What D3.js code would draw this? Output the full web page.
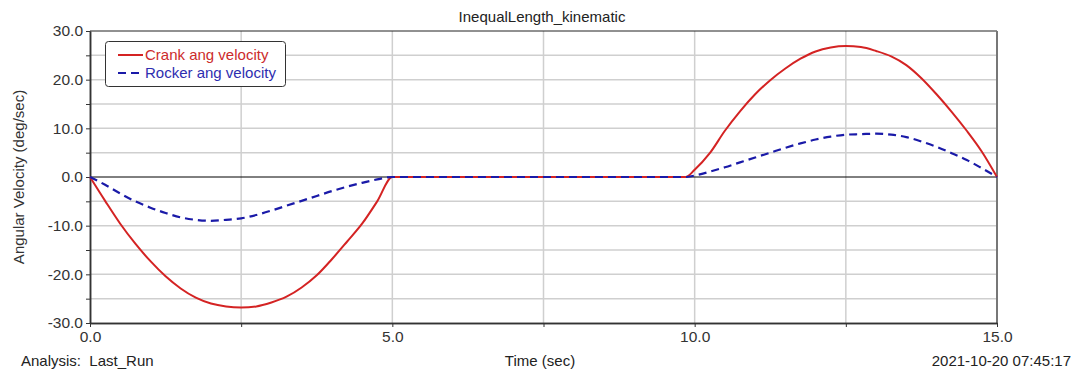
<!DOCTYPE html>
<html>
<head>
<meta charset="utf-8">
<script src="https://cdn.jsdelivr.net/npm/d3@7"></script>
<style>
  body { margin: 0; background: #fff; }
  svg { display: block; font-family: "Liberation Sans", Arial, sans-serif; }
</style>
</head>
<body>
<svg id="chart" width="1075" height="372"></svg>
<script>
// time samples (sec)
const time = [
  0, 0.25, 0.5, 0.75, 1.0, 1.25, 1.5, 1.75, 2.0, 2.25, 2.5, 2.75, 3.0, 3.25, 3.5, 3.75, 4.0, 4.25, 4.5, 4.75, 5.0,
  6.0, 7.0, 8.0, 9.0, 9.85,
  10.0, 10.25, 10.5, 10.75, 11.0, 11.25, 11.5, 11.75, 12.0, 12.25, 12.5, 12.75, 13.0, 13.25, 13.5, 13.75, 14.0, 14.25, 14.5, 14.75, 15.0
];
const crank = [
  0, -4.9, -9.6, -13.7, -17.3, -20.4, -22.9, -24.8, -26.0, -26.6, -26.8, -26.6, -25.8, -24.6, -22.7, -20.2, -16.9, -13.3, -9.6, -5.0, 0,
  0, 0, 0, 0, 0,
  1.5, 4.9, 9.5, 13.5, 17.0, 19.9, 22.3, 24.3, 25.8, 26.6, 26.9, 26.7, 25.9, 24.8, 23.0, 20.3, 17.0, 13.4, 9.5, 5.2, 0
];
const rocker = [
  0, -1.6, -3.4, -5.0, -6.3, -7.4, -8.3, -8.8, -9.0, -8.8, -8.5, -7.8, -6.9, -5.9, -4.9, -3.9, -2.9, -2.0, -1.2, -0.5, 0,
  0, 0, 0, 0, 0,
  0.3, 1.1, 2.0, 3.0, 4.0, 5.0, 6.0, 6.9, 7.7, 8.3, 8.7, 8.8, 8.9, 8.7, 8.2, 7.3, 6.2, 4.9, 3.5, 1.8, 0
];
const seriesNames = ["Crank ang velocity", "Rocker ang velocity"];
const xTicks = [0, 5, 10, 15];
const yTicks = [-30, -20, -10, 0, 10, 20, 30];

const svg = d3.select("#chart");
const plotLeft = 90, plotRight = 997, plotTop = 31, plotBottom = 323;

const x = d3.scaleLinear().domain([0, 15]).range([plotLeft, plotRight]);
const y = d3.scaleLinear().domain([-30, 30]).range([plotBottom, plotTop]);

// plain hyphen for negatives, like the original
const fmt = d => d.toFixed(1);

// grid
svg.append("g").selectAll("line")
  .data(d3.range(2.5, 15, 2.5))
  .enter().append("line")
  .attr("x1", d => x(d)).attr("x2", d => x(d))
  .attr("y1", plotTop).attr("y2", plotBottom)
  .style("stroke", "#cfcfcf").style("stroke-width", 1.5);

svg.append("g").selectAll("line")
  .data(d3.range(-25, 30, 5).filter(d => d !== 0))
  .enter().append("line")
  .attr("x1", plotLeft).attr("x2", plotRight)
  .attr("y1", d => y(d)).attr("y2", d => y(d))
  .style("stroke", "#cfcfcf").style("stroke-width", 1.5);

// zero line
svg.append("line")
  .attr("x1", plotLeft).attr("x2", plotRight)
  .attr("y1", y(0)).attr("y2", y(0))
  .style("stroke", "#000").style("stroke-width", 1);

// frame top / right
svg.append("line").attr("x1", plotLeft).attr("x2", plotRight).attr("y1", plotTop).attr("y2", plotTop)
  .style("stroke", "#222").style("stroke-width", 1);
svg.append("line").attr("x1", plotRight).attr("x2", plotRight).attr("y1", plotTop).attr("y2", plotBottom)
  .style("stroke", "#777").style("stroke-width", 2);

// axes
const yAxis = d3.axisLeft(y).tickValues(yTicks).tickFormat(fmt).tickSize(4).tickSizeOuter(0);
const yMinor = d3.axisLeft(y).tickValues(d3.range(-25, 30, 10)).tickFormat("").tickSize(4).tickSizeOuter(0);
const xAxis = d3.axisBottom(x).tickValues(xTicks).tickFormat(fmt).tickSize(4).tickSizeOuter(0);
const xMinor = d3.axisBottom(x).tickValues([2.5, 7.5, 12.5]).tickFormat("").tickSize(4).tickSizeOuter(0);

function styleAxis(g) {
  g.select(".domain").style("stroke", "#333").style("stroke-width", 1.5);
  g.selectAll(".tick line").style("stroke", "#333");
  g.selectAll(".tick text").style("font-size", "15.5px").style("fill", "#333")
    .style("font-family", "'Liberation Sans', Arial, sans-serif");
}

svg.append("g").attr("transform", `translate(${plotLeft},0)`).call(yMinor).call(styleAxis);
svg.append("g").attr("transform", `translate(0,${plotBottom})`).call(xMinor).call(styleAxis);
svg.append("g").attr("transform", `translate(${plotLeft},0)`).call(yAxis).call(styleAxis)
  .selectAll(".tick text").attr("x", -7);
svg.append("g").attr("transform", `translate(0,${plotBottom})`).call(xAxis).call(styleAxis)
  .selectAll(".tick text").attr("y", 8);

// lines
const rows = time.map((t, i) => ({ t: t, crank: crank[i], rocker: rocker[i] }));

const crankLine = d3.line().x(d => x(d.t)).y(d => y(d.crank)).curve(d3.curveMonotoneX);
const rockerLine = d3.line().x(d => x(d.t)).y(d => y(d.rocker)).curve(d3.curveMonotoneX);

svg.append("path").datum(rows)
  .attr("d", crankLine)
  .style("fill", "none").style("stroke", "#d42323").style("stroke-width", 2);

svg.append("path").datum(rows)
  .attr("d", rockerLine)
  .style("fill", "none").style("stroke", "#1a1aa8").style("stroke-width", 2.2)
  .style("stroke-dasharray", "8,5");

// legend
const legend = svg.append("g").attr("class", "legend");
legend.append("rect")
  .attr("x", 105.5).attr("y", 41.5).attr("width", 180).attr("height", 45).attr("rx", 3)
  .style("fill", "#fff").style("stroke", "#333").style("stroke-width", 1);

const legendColors = [["#d42323", "#cc2b2b", null], ["#1a1aa8", "#2e2eb0", "8,5"]];
seriesNames.forEach((name, i) => {
  const ly = 55 + i * 18;
  legend.append("line")
    .attr("x1", 118).attr("x2", 143).attr("y1", ly).attr("y2", ly)
    .style("stroke", legendColors[i][0]).style("stroke-width", 2)
    .style("stroke-dasharray", legendColors[i][2]);
  legend.append("text")
    .attr("x", 145).attr("y", ly + 5)
    .style("font-size", "15px").style("fill", legendColors[i][1])
    .text(name);
});

// titles
svg.append("text").attr("x", 542).attr("y", 22).attr("text-anchor", "middle")
  .style("font-size", "15px").style("fill", "#222").text("InequalLength_kinematic");

svg.append("text").attr("transform", `translate(24,177) rotate(-90)`).attr("text-anchor", "middle")
  .style("font-size", "15px").style("fill", "#333").text("Angular Velocity (deg/sec)");

svg.append("text").attr("x", 540).attr("y", 366).attr("text-anchor", "middle")
  .style("font-size", "15px").style("fill", "#222").text("Time (sec)");

svg.append("text").attr("x", 21).attr("y", 366)
  .style("font-size", "15px").style("fill", "#222").style("white-space", "pre")
  .text("Analysis:  Last_Run");

svg.append("text").attr("x", 1071).attr("y", 366).attr("text-anchor", "end")
  .style("font-size", "15px").style("fill", "#222").text("2021-10-20 07:45:17");
</script>
</body>
</html>
